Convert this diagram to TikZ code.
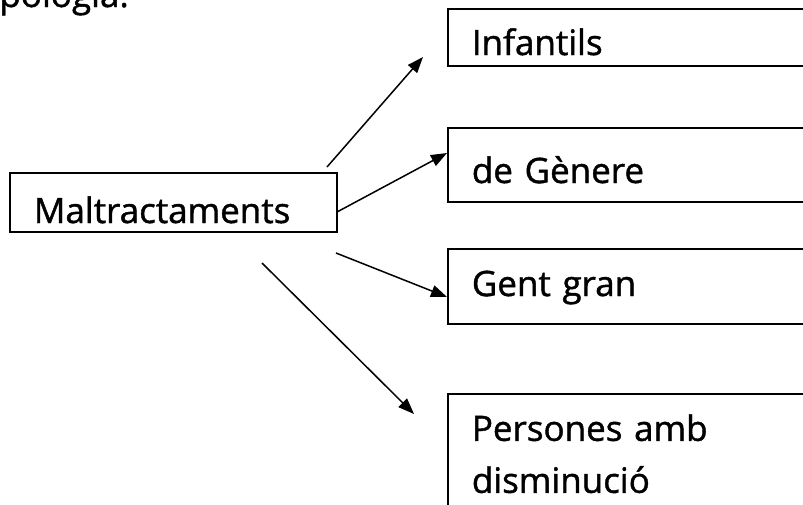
\documentclass[tikz,border=0pt]{standalone}
\usepackage{fontspec}
\setmainfont{Open Sans}
\newfontfamily\lblfont{Open Sans}[FakeBold=1.2]
\usetikzlibrary{arrows.meta}
\begin{document}
\begin{tikzpicture}[x=1pt,y=-1pt,
  txt/.style={font=\lblfont\fontsize{35}{52}\selectfont},
  box/.style={txt,draw,line width=1.7pt,anchor=base west,inner xsep=24pt,inner ysep=0pt,text width=352pt,align=left},
  arr/.style={-{Triangle[length=16pt,width=12pt]},line width=1.5pt}]
\useasboundingbox (0,0) rectangle (803,504);
\node[txt,anchor=base west,inner sep=0pt] (title) at (-29,7) {Tipologia:};
\node[box,text width=279pt,inner xsep=24pt,text height=50pt,text depth=9pt] (m) at (9,223) {Maltractaments};
\node[box,text height=46pt,text depth=11pt] (inf) at (447,55) {Infantils};
\node[box,text height=55pt,text depth=19pt] (gen) at (447,183) {de Gènere};
\node[box,text height=47pt,text depth=28pt] (gg) at (447,296) {Gent gran};
\node[box,anchor=north west,text height=47pt,text depth=200pt] (pd) at (447,393) {Persones amb\\disminució};
\coordinate (s1) at (327,167); \coordinate (e1) at (423,57);
\coordinate (s2) at (337,212); \coordinate (e2) at (447,153);
\coordinate (s3) at (336,253); \coordinate (e3) at (447,297);
\coordinate (s4) at (262,263); \coordinate (e4) at (414,414);
\draw[arr] (s1) -- (e1);
\draw[arr] (s2) -- (e2);
\draw[arr] (s3) -- (e3);
\draw[arr] (s4) -- (e4);
\end{tikzpicture}
\end{document}
